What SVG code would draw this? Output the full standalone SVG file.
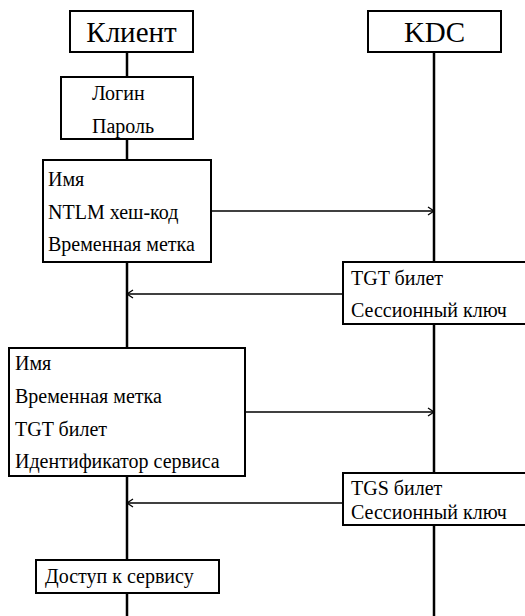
<svg xmlns="http://www.w3.org/2000/svg" width="525" height="616" viewBox="0 0 525 616">
<defs>
<marker id="arr" markerWidth="10" markerHeight="10" refX="8" refY="5" orient="auto" markerUnits="userSpaceOnUse">
<path d="M2,1 L8,5 L2,9" fill="none" stroke="#000" stroke-width="1.3"/>
</marker>
</defs>
<g id="connectors" stroke="#000" fill="none">
<line stroke-width="2.5" x1="127" y1="52" x2="127" y2="616"/>
<line stroke-width="2.5" x1="434" y1="52" x2="434" y2="616"/>
<line stroke-width="1.6" x1="211" y1="211" x2="434" y2="211" marker-end="url(#arr)"/>
<line stroke-width="1.6" x1="343" y1="294" x2="127" y2="294" marker-end="url(#arr)"/>
<line stroke-width="1.6" x1="245" y1="412" x2="434" y2="412" marker-end="url(#arr)"/>
<line stroke-width="1.6" x1="343" y1="503" x2="127" y2="503" marker-end="url(#arr)"/>
</g>
<g id="nodes" font-family="Liberation Serif" font-size="20" fill="#000">
<g id="client">
<rect fill="#fff" stroke="#000" stroke-width="2" x="70" y="11" width="123" height="41"/>
<text x="131.5" y="42" font-family="Liberation Serif" font-size="29" text-anchor="middle">Клиент</text>
</g>
<g id="kdc">
<rect fill="#fff" stroke="#000" stroke-width="2" x="368" y="11" width="133" height="41"/>
<text x="434.5" y="42" font-family="Liberation Serif" font-size="29" text-anchor="middle">KDC</text>
</g>
<g id="login">
<rect fill="#fff" stroke="#000" stroke-width="2" x="61" y="77" width="132" height="62"/>
<text x="92" y="100" font-family="Liberation Serif" font-size="20">Логин</text>
<text x="92" y="133" font-family="Liberation Serif" font-size="20">Пароль</text>
</g>
<g id="msg1">
<rect fill="#fff" stroke="#000" stroke-width="2" x="43" y="160" width="168" height="102"/>
<text x="48" y="186" font-family="Liberation Serif" font-size="20">Имя</text>
<text x="48" y="219" font-family="Liberation Serif" font-size="20">NTLM хеш-код</text>
<text x="48" y="251" font-family="Liberation Serif" font-size="20">Временная метка</text>
</g>
<g id="tgt">
<rect fill="#fff" stroke="#000" stroke-width="2" x="343" y="262" width="190" height="62"/>
<text x="351" y="285" font-family="Liberation Serif" font-size="20">TGT билет</text>
<text x="351" y="317" font-family="Liberation Serif" font-size="20">Сессионный ключ</text>
</g>
<g id="msg2">
<rect fill="#fff" stroke="#000" stroke-width="2" x="9" y="348" width="236" height="128"/>
<text x="15" y="370" font-family="Liberation Serif" font-size="20">Имя</text>
<text x="15" y="403" font-family="Liberation Serif" font-size="20">Временная метка</text>
<text x="15" y="436" font-family="Liberation Serif" font-size="20">TGT билет</text>
<text x="15" y="468" font-family="Liberation Serif" font-size="20">Идентификатор сервиса</text>
</g>
<g id="tgs">
<rect fill="#fff" stroke="#000" stroke-width="2" x="343" y="473" width="190" height="52"/>
<text x="351" y="495" font-family="Liberation Serif" font-size="20">TGS билет</text>
<text x="351" y="519" font-family="Liberation Serif" font-size="20">Сессионный ключ</text>
</g>
<g id="access">
<rect fill="#fff" stroke="#000" stroke-width="2" x="36" y="560" width="183" height="33"/>
<text x="45" y="583" font-family="Liberation Serif" font-size="20">Доступ к сервису</text>
</g>
</g>
</svg>
